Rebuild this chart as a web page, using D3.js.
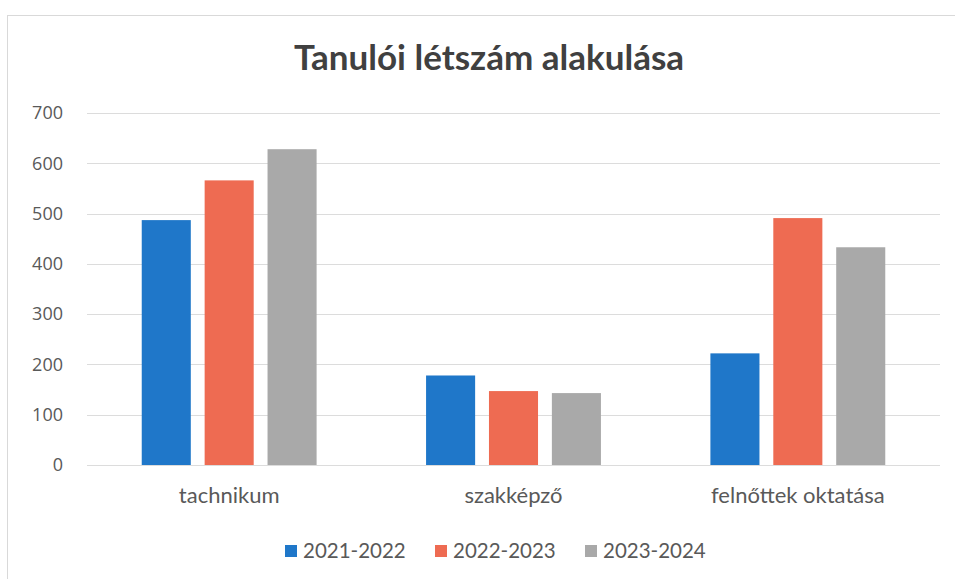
<!DOCTYPE html>
<html>
<head>
<meta charset="UTF-8">
<script src="https://d3js.org/d3.v7.min.js"></script>
<style>
  body { margin: 0; background: #fff; }
  text { font-family: Lato, "Open Sans", sans-serif; }
</style>
</head>
<body>
<svg id="canvas"></svg>
<script>
  width = 955;
  height = 579;

  categories = ["tachnikum", "szakképző", "felnőttek oktatása"];
  seriesNames = ["2021-2022", "2022-2023", "2023-2024"];
  colors = ["#1f77c9", "#ee6b52", "#a9a9a9"];
  values2021 = [487, 178, 222];
  values2022 = [566, 147, 491];
  values2023 = [628, 143, 433];
  yTicks = [0, 100, 200, 300, 400, 500, 600, 700];

  seriesValues = [values2021, values2022, values2023];

  margin = {left: 87, right: 15, top: 113, bottom: 114};

  canvas = d3.select("#canvas")
    .attr("width", width)
    .attr("height", height);

  // frame
  canvas.append("rect")
    .attr("x", 7.5).attr("y", 15.5)
    .attr("width", 960).attr("height", 600)
    .attr("fill", "none")
    .attr("stroke", "#d9d9d9");

  canvas.append("text")
    .attr("x", 489).attr("y", 70)
    .attr("text-anchor", "middle")
    .style("font-size", "35px")
    .style("font-weight", "bold")
    .style("fill", "#404040")
    .text("Tanulói létszám alakulása");

  y = d3.scaleLinear()
    .domain([0, 700])
    .range([height - margin.bottom, margin.top]);

  x0 = d3.scaleBand()
    .domain(categories)
    .range([margin.left, width - margin.right])
    .paddingInner(0.385)
    .paddingOuter(0.1925);

  x1 = d3.scaleBand()
    .domain(seriesNames)
    .range([0, x0.bandwidth()])
    .paddingInner(0.22);

  // gridlines
  canvas.append("g")
    .selectAll("line")
    .data(yTicks)
    .enter()
      .append("line")
        .attr("x1", margin.left)
        .attr("x2", width - margin.right)
        .attr("y1", d => Math.round(y(d)) + 0.5)
        .attr("y2", d => Math.round(y(d)) + 0.5)
        .attr("stroke", "#dcdcdc")
        .attr("stroke-width", 1);

  yAxis = canvas.append("g")
    .attr("transform", "translate(" + (margin.left - 24) + ",0)")
    .call(d3.axisLeft(y).tickValues(yTicks).tickSize(0).tickPadding(0));
  yAxis.select(".domain").remove();
  yAxis.selectAll("text")
    .style("fill", "#595959")
    .style("font-family", "'Open Sans', sans-serif")
    .style("font-size", "18px");

  groups = canvas.append("g")
    .selectAll("g")
    .data(categories)
    .enter()
      .append("g")
        .attr("transform", d => "translate(" + x0(d) + ",0)");

  groups.selectAll("rect")
    .data((d, i) => seriesNames.map((s, j) => ({series: s, value: seriesValues[j][i], color: colors[j]})))
    .enter()
      .append("rect")
        .attr("x", d => x1(d.series))
        .attr("y", d => y(d.value))
        .attr("width", x1.bandwidth())
        .attr("height", d => y(0) - y(d.value))
        .attr("fill", d => d.color);

  xAxis = canvas.append("g")
    .attr("transform", "translate(0," + (height - margin.bottom) + ")")
    .call(d3.axisBottom(x0).tickSize(0).tickPadding(22));
  xAxis.select(".domain").remove();
  xAxis.selectAll("text")
    .style("font-size", "22px")
    .style("fill", "#595959")
    .style("font-family", "Lato, sans-serif");

  // legend
  legendX = [285, 435, 585];
  legend = canvas.append("g")
    .selectAll("g")
    .data(seriesNames)
    .enter()
      .append("g")
        .attr("transform", (d, i) => "translate(" + legendX[i] + ",545)");
  legend.append("rect")
    .attr("width", 12).attr("height", 12)
    .attr("fill", (d, i) => colors[i]);
  legend.append("text")
    .attr("x", 18).attr("y", 13)
    .style("font-size", "20.5px")
    .style("fill", "#595959")
    .text(d => d);
</script>
</body>
</html>
